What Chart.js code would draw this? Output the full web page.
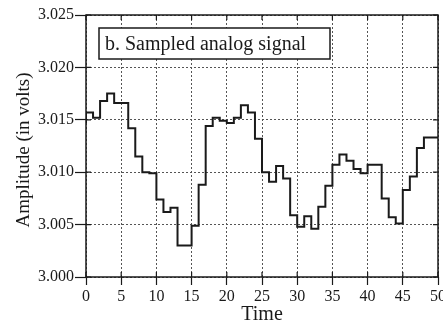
<!DOCTYPE html>
<html>
<head>
<meta charset="utf-8">
<script src="https://cdn.jsdelivr.net/npm/chart.js@4"></script>
<style>
  html, body { margin: 0; padding: 0; background: #fff; }
  #wrap { width: 443px; height: 325px; }
</style>
</head>
<body>
<div id="wrap"><canvas id="signalChart" width="443" height="325"></canvas></div>
<script>
// sample times (one sample per time unit)
const sampleTimes = [0, 1, 2, 3, 4, 5, 6, 7, 8, 9, 10, 11, 12, 13, 14, 15, 16, 17, 18, 19, 20,
    21, 22, 23, 24, 25, 26, 27, 28, 29, 30, 31, 32, 33, 34, 35, 36, 37, 38, 39, 40,
    41, 42, 43, 44, 45, 46, 47, 48, 49, 50];

// sampled amplitude, held until the next sample
const amplitude = [3.0147, 3.0157, 3.0152, 3.0168, 3.0175, 3.0166, 3.0166, 3.0142, 3.0115, 3.0100,
    3.0099, 3.0074, 3.0062, 3.0066, 3.0030, 3.0030, 3.0049, 3.0088, 3.0144, 3.0152,
    3.0149, 3.0147, 3.0152, 3.0164, 3.0157, 3.0132, 3.0100, 3.0091, 3.0106, 3.0094,
    3.0059, 3.0048, 3.0058, 3.0046, 3.0067, 3.0087, 3.0107, 3.0117, 3.0111, 3.0103,
    3.0099, 3.0107, 3.0107, 3.0075, 3.0057, 3.0051, 3.0083, 3.0096, 3.0123, 3.0133,
    3.0133];

const xTicks = [0, 5, 10, 15, 20, 25, 30, 35, 40, 45, 50];
const yTicks = [3.000, 3.005, 3.010, 3.015, 3.020, 3.025];
const panelLabel = 'b. Sampled analog signal';
const yTitle = 'Amplitude (in volts)';

const serif = '"Liberation Serif", "DejaVu Serif", serif';
const ink = '#1a1a1a';

// frame, inner tick marks, y title and the label box
const framePlugin = {
    id: 'frame',
    afterDraw(chart) {
        const ctx = chart.ctx;
        const area = chart.chartArea;
        const xs = chart.scales.x;
        const ys = chart.scales.y;
        ctx.save();
        ctx.strokeStyle = ink;
        ctx.lineWidth = 1.5;
        ctx.strokeRect(area.left, area.top, area.right - area.left, area.bottom - area.top);

        ctx.lineWidth = 1.2;
        ctx.beginPath();
        xTicks.forEach(function(v) {
            const px = xs.getPixelForValue(v);
            ctx.moveTo(px, area.bottom);
            ctx.lineTo(px, area.bottom - 5);
            ctx.moveTo(px, area.top);
            ctx.lineTo(px, area.top + 5);
        });
        yTicks.forEach(function(v) {
            const py = ys.getPixelForValue(v);
            ctx.moveTo(area.left, py);
            ctx.lineTo(area.left + 5, py);
            ctx.moveTo(area.right, py);
            ctx.lineTo(area.right - 5, py);
        });
        ctx.stroke();

        // y axis title, a bit below the axis centre like the original
        ctx.save();
        ctx.translate(24, 150);
        ctx.rotate(-Math.PI / 2);
        ctx.fillStyle = ink;
        ctx.font = '19px ' + serif;
        ctx.textAlign = 'center';
        ctx.textBaseline = 'middle';
        ctx.fillText(yTitle, 0, 0);
        ctx.restore();

        // label box
        const bx = 99, by = 28, bw = 231, bh = 31;
        ctx.fillStyle = '#fff';
        ctx.fillRect(bx, by, bw, bh);
        ctx.lineWidth = 1.5;
        ctx.strokeRect(bx, by, bw, bh);
        ctx.fillStyle = ink;
        ctx.font = '20px ' + serif;
        ctx.textBaseline = 'middle';
        ctx.textAlign = 'left';
        ctx.fillText(panelLabel, bx + 6, by + bh / 2 + 1);
        ctx.restore();
    }
};

const ctx = document.getElementById('signalChart').getContext('2d');

const signalChart = new Chart(ctx, {
    type: 'line',
    data: {
        datasets: [{
            data: sampleTimes.map(function(t, i) { return { x: t, y: amplitude[i] }; }),
            borderColor: ink,
            borderWidth: 2,
            pointRadius: 0,
            stepped: 'after',
            fill: false
        }]
    },
    options: {
        responsive: false,
        animation: false,
        layout: { padding: { top: 15, right: 5, left: 0, bottom: 0 } },
        plugins: {
            legend: { display: false },
            tooltip: { enabled: false }
        },
        scales: {
            x: {
                type: 'linear',
                min: 0,
                max: 50,
                afterFit: function(scale) {
                    scale.height = 48;
                    scale.paddingLeft = 0;
                    scale.paddingRight = 0;
                },
                afterBuildTicks: function(scale) {
                    scale.ticks = xTicks.map(function(v) { return { value: v }; });
                },
                ticks: {
                    color: ink,
                    font: { family: serif, size: 16 },
                    padding: 2,
                    maxRotation: 0,
                    autoSkip: false
                },
                grid: {
                    color: '#555',
                    lineWidth: 1,
                    tickLength: 8,
                    tickColor: ink,
                    tickWidth: 1.2
                },
                border: { display: false, dash: [2, 2] },
                title: {
                    display: true,
                    text: 'Time',
                    color: ink,
                    font: { family: serif, size: 20, lineHeight: 1.0 },
                    padding: { top: 0, bottom: 0 }
                }
            },
            y: {
                min: 3.000,
                max: 3.025,
                afterFit: function(scale) {
                    scale.width = 86;
                },
                afterBuildTicks: function(scale) {
                    scale.ticks = yTicks.map(function(v) { return { value: v }; });
                },
                ticks: {
                    color: ink,
                    font: { family: serif, size: 16 },
                    padding: 1,
                    callback: function(value) { return Number(value).toFixed(3); }
                },
                grid: {
                    color: '#555',
                    lineWidth: 1,
                    tickLength: 11,
                    tickColor: ink,
                    tickWidth: 1.2
                },
                border: { display: false, dash: [2, 2] },
                title: { display: false }
            }
        }
    },
    plugins: [framePlugin]
});
</script>
</body>
</html>
